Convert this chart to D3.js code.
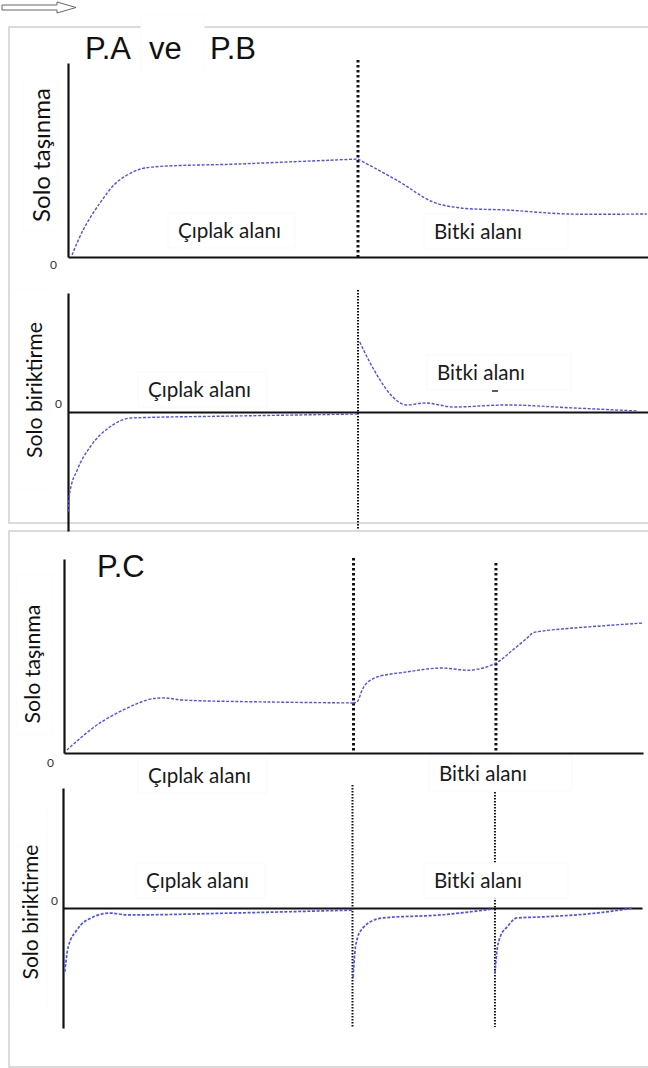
<!DOCTYPE html>
<html>
<head>
<meta charset="utf-8">
<script src="https://cdn.jsdelivr.net/npm/d3@7"></script>
<style>
  body { margin: 0; background: #fff; }
  svg { display: block; }
</style>
</head>
<body>
<script>
// ---- data (x = position along the slope 0-100, y = relative amount) ----
var titles = ["P.A", "ve", "P.B", "P.C"];
var yLabels = ["Solo taşınma", "Solo biriktirme"];
var areaLabels = ["Çıplak alanı", "Bitki alanı"];

// borders between bare area and vegetation
var bordersAB = [50];
var bordersC = [50, 74.6];

// P.A ve P.B - solo taşınma
var abMoveX1 = [0.7, 2.6, 5.5, 8.4, 11.2, 13.3, 30, 50];
var abMoveY1 = [1, 13.9, 27.8, 38.5, 43.8, 45.9, 48, 50.5];
var abMoveX2 = [50, 56.9, 62.9, 67.6, 75.7, 86, 99.8];
var abMoveY2 = [50.5, 39.2, 28.4, 25.3, 24.2, 22.2, 22.2];

// P.A ve P.B - solo biriktirme
var abDepX1 = [0, 0.3, 1.6, 3.8, 7.2, 11, 28.4, 49.8];
var abDepY1 = [-84, -68, -48.7, -29.4, -12.6, -5, -3.4, -1.7];
var abDepX2 = [50.3, 52.1, 53.8, 56, 58.4, 61.6, 66.4, 75.7, 87.1, 98.3];
var abDepY2 = [58.8, 41.2, 26.9, 12.6, 5.9, 7.6, 4.2, 5.9, 3.4, 0.8];

// P.C - solo taşınma
var cMoveX1 = [0.5, 6.2, 14.3, 17.1, 20.6, 35.1, 49.9];
var cMoveY1 = [1.5, 15.5, 27.3, 28.4, 27.3, 26.3, 25.8];
var cMoveX2 = [49.9, 50.6, 51.5, 52.3, 54.1, 59.2, 64.9, 70.6, 74.6, 77.5, 80, 81, 82.7, 87.9, 100];
var cMoveY2 = [25.8, 26.3, 32.5, 36.1, 39.2, 41.8, 43.8, 42.8, 46.4, 53.1, 59.3, 61.9, 62.9, 64.4, 67];

// P.C - solo biriktirme
var cDepX1 = [0.3, 0.9, 2.4, 5.2, 8.1, 11.2, 29.4, 50.1];
var cDepY1 = [-53.3, -32.5, -18.3, -7.5, -4.2, -5.8, -4.2, -1.7];
var cDepX2 = [50.1, 50.4, 50.9, 51.8, 53, 55.3, 65.1, 74.3];
var cDepY2 = [-57.5, -37.5, -24.2, -16.7, -11.7, -8.3, -5.8, -0.8];
var cDepX3 = [74.6, 74.9, 75.5, 76.7, 78.4, 82.4, 93.8, 98.4];
var cDepY3 = [-54.2, -37.5, -24.2, -15.8, -8.3, -7.5, -3.3, 0];

var svg = d3.select("body").append("svg")
  .attr("width", 648)
  .attr("height", 1068);

// scale the font so the text fills the wanted width
function fit(t, w) {
  var cur = t.node().getComputedTextLength();
  t.attr("font-size", parseFloat(t.attr("font-size")) * w / cur);
}

// little hollow arrow in the corner
svg.append("polygon")
  .attr("points", "2,5 57,5 57,2 76,7.5 57,13 57,10 2,10")
  .attr("fill", "#fff")
  .attr("stroke", "#666")
  .attr("stroke-width", 1);

// panel frames
svg.append("rect").attr("x", 9).attr("y", 27).attr("width", 660).attr("height", 496)
  .attr("fill", "none").attr("stroke", "#cfcfcf").attr("stroke-width", 1.5);
svg.append("rect").attr("x", 9).attr("y", 531).attr("width", 660).attr("height", 536)
  .attr("fill", "none").attr("stroke", "#cfcfcf").attr("stroke-width", 1.5);

// white box behind "ve"
svg.append("rect").attr("x", 141).attr("y", 15).attr("width", 63).attr("height", 57)
  .attr("fill", "#fff").attr("stroke", "#fbfbfb");

var titleFont = "'Liberation Sans', Arial, sans-serif";
[[titles[0], 85, 59], [titles[1], 149, 59], [titles[2], 210, 59], [titles[3], 97, 577]]
  .forEach(function (t) {
    svg.append("text")
      .attr("x", t[1]).attr("y", t[2])
      .attr("font-family", titleFont)
      .attr("font-size", 31)
      .attr("fill", "#111")
      .text(t[0]);
  });

var labelFont = "Lato, 'Open Sans', sans-serif";

function drawChart(c) {
  var x = d3.scaleLinear().domain([0, 100]).range(c.xr);
  var y = d3.scaleLinear().domain(c.yd).range(c.yr);
  var g = svg.append("g");

  // faint box behind y label
  g.append("rect")
    .attr("x", c.yl.bx).attr("y", c.yl.by).attr("width", c.yl.bw).attr("height", c.yl.bh)
    .attr("fill", "#fff").attr("stroke", "#fbfbfb");

  var yl = g.append("text")
    .attr("transform", "translate(" + c.yl.x + "," + c.yl.cy + ") rotate(-90)")
    .attr("text-anchor", "middle")
    .attr("font-family", labelFont)
    .attr("font-size", 20)
    .attr("fill", "#111")
    .text(c.yl.text);
  fit(yl, c.yl.len);

  // axes without ticks
  g.append("g")
    .attr("transform", "translate(0," + y(0) + ")")
    .call(d3.axisBottom(x).tickValues([]).tickSizeOuter(0))
    .select(".domain").attr("stroke", "#111").attr("stroke-width", 2.2);
  g.append("g")
    .attr("transform", "translate(" + x(0) + ",0)")
    .call(d3.axisLeft(y).tickValues([]).tickSizeOuter(0))
    .select(".domain").attr("stroke", "#111").attr("stroke-width", 2.2);

  g.append("text")
    .attr("x", c.zero[0]).attr("y", c.zero[1])
    .attr("font-family", labelFont)
    .attr("font-size", 12)
    .attr("fill", "#333")
    .text("0");

  // dotted borders
  g.selectAll(null)
    .data(c.borders)
    .enter().append("line")
    .attr("x1", function (d) { return x(d); })
    .attr("x2", function (d) { return x(d); })
    .attr("y1", function (d, i) { return c.dotTop[i]; })
    .attr("y2", c.dotBottom)
    .attr("stroke", "#111")
    .attr("stroke-width", c.dotW)
    .attr("stroke-dasharray", c.dotDash);

  // area label boxes + texts
  c.boxes.forEach(function (b, i) {
    g.append("rect")
      .attr("x", b[0]).attr("y", b[1]).attr("width", b[2]).attr("height", 35)
      .attr("fill", "#fff").attr("stroke", "#f9f9f9");
    var t = g.append("text")
      .attr("x", b[0] + 10).attr("y", b[1] + 25)
      .attr("font-family", labelFont)
      .attr("font-size", 18)
      .attr("fill", "#1a1a1a")
      .text(areaLabels[i]);
    fit(t, i === 0 ? 103 : 88);
  });

  // curves
  var line = d3.line()
    .x(function (d) { return x(d[0]); })
    .y(function (d) { return y(d[1]); })
    .curve(c.curve);

  g.selectAll(null)
    .data(c.segs)
    .enter().append("path")
    .attr("d", function (s) { return line(d3.zip(s[0], s[1])); })
    .attr("fill", "none")
    .attr("stroke", "#4f4ff5")
    .attr("stroke-width", c.lw)
    .attr("stroke-dasharray", "3,1.6");

  return g;
}

// P.A ve P.B - taşınma
drawChart({
  xr: [68, 648], yd: [0, 100], yr: [257, 63],
  yl: { text: yLabels[0], x: 50, cy: 155, len: 134, bx: 23, by: 80, bw: 35, bh: 150 },
  zero: [50, 269],
  borders: bordersAB, dotTop: [60], dotBottom: 257, dotW: 3, dotDash: "2.5,2.5",
  boxes: [[168, 213, 127], [424, 214, 144]],
  segs: [[abMoveX1, abMoveY1], [abMoveX2, abMoveY2]],
  curve: d3.curveCatmullRom.alpha(0.5),
  lw: 1.4
});

// P.A ve P.B - biriktirme
var g2 = drawChart({
  xr: [68, 648], yd: [-100, 100], yr: [531, 293],
  yl: { text: yLabels[1], x: 42, cy: 390, len: 136, bx: 14, by: 290, bw: 36, bh: 200 },
  zero: [55, 408],
  borders: bordersAB, dotTop: [290], dotBottom: 530, dotW: 2, dotDash: "1.5,1.5",
  boxes: [[138, 372, 129], [427, 355, 144]],
  segs: [[abDepX1, abDepY1], [abDepX2, abDepY2]],
  curve: d3.curveMonotoneX,
  lw: 1.4
});
// small stray mark under "Bitki alanı"
g2.append("line").attr("x1", 492).attr("x2", 498).attr("y1", 391).attr("y2", 391)
  .attr("stroke", "#333").attr("stroke-width", 1.6);

// P.C - taşınma
drawChart({
  xr: [64, 643], yd: [0, 100], yr: [753, 559],
  yl: { text: yLabels[0], x: 40, cy: 664, len: 119, bx: 16, by: 575, bw: 36, bh: 160 },
  zero: [47, 767],
  borders: bordersC, dotTop: [558, 563], dotBottom: 753, dotW: 3, dotDash: "2.5,2.5",
  boxes: [[138, 758, 129], [429, 756, 143]],
  segs: [[cMoveX1, cMoveY1], [cMoveX2, cMoveY2]],
  curve: d3.curveCatmullRom.alpha(0.5),
  lw: 1.4
});

// P.C - biriktirme
drawChart({
  xr: [63, 642], yd: [-100, 100], yr: [1028, 788],
  yl: { text: yLabels[1], x: 38, cy: 912, len: 135, bx: 13, by: 808, bw: 34, bh: 200 },
  zero: [51, 905],
  borders: bordersC, dotTop: [785, 792], dotBottom: 1027, dotW: 2, dotDash: "1.5,1.5",
  boxes: [[136, 863, 129], [424, 863, 144]],
  segs: [[cDepX1, cDepY1], [cDepX2, cDepY2], [cDepX3, cDepY3]],
  curve: d3.curveMonotoneX,
  lw: 1.7
});
</script>
</body>
</html>
